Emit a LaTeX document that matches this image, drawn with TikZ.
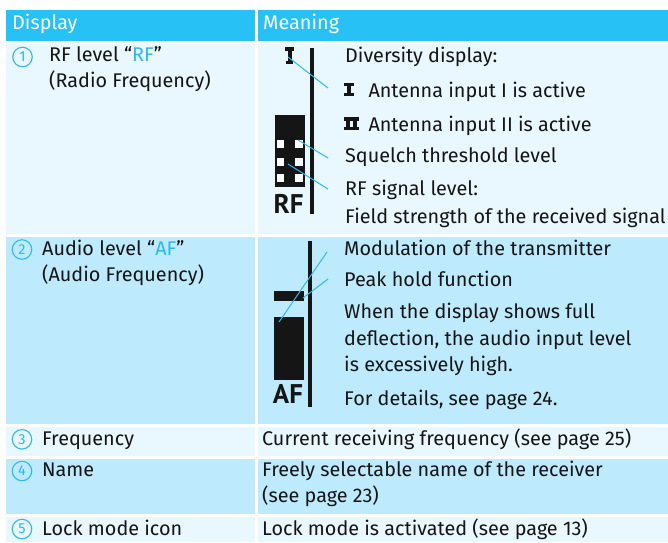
\documentclass[tikz,border=0pt]{standalone}
\usepackage{fontspec}
\setmainfont{Fira Sans}
\newfontfamily\lblfont{PT Sans}
\definecolor{hdr}{HTML}{27C1F6}
\definecolor{rowA}{HTML}{E9F7FE}
\definecolor{rowB}{HTML}{BDEBFD}
\definecolor{acc}{HTML}{2DB8EE}
\definecolor{ink}{HTML}{151515}
\begin{document}
\begin{tikzpicture}[x=1pt,y=-1pt,
  txt/.style={anchor=base west, inner sep=0pt, text=ink, font=\fontsize{19.8}{22}\selectfont},
  htxt/.style={txt, text=white},
  num/.style={circle, draw=acc, line width=1.1pt, text=acc, inner sep=0pt, minimum size=19.5pt, font=\fontsize{14.5}{14.5}\selectfont},
  lead/.style={draw=acc, line width=1pt},
  glyph/.style={fill=ink},
  biglbl/.style={anchor=base, inner sep=0pt, text=ink, font=\lblfont\fontsize{27}{27}\selectfont\bfseries}]
\useasboundingbox (0,0) rectangle (668,542);
% table cells
\fill[hdr] (6,10) rectangle (255,41);
\fill[hdr] (258,10) rectangle (668,41);
\fill[rowA] (6,44) rectangle (255,234);
\fill[rowA] (258,44) rectangle (668,234);
\fill[rowB] (6,237) rectangle (255,424);
\fill[rowB] (258,237) rectangle (668,424);
\fill[rowA] (6,427) rectangle (255,456);
\fill[rowA] (258,427) rectangle (668,456);
\fill[rowB] (6,459) rectangle (255,514);
\fill[rowB] (258,459) rectangle (668,514);
\fill[rowA] (6,517) rectangle (255,542);
\fill[rowA] (258,517) rectangle (668,542);
% header
\node[htxt] (hd) at (12,29.5) {Display};
\node[htxt] (hm) at (263,29.5) {Meaning};
% left column
\node[num] (n1) at (22.5,57) {1};
\node[txt] (l1a) at (49,61.7) {RF level “\textcolor{acc}{RF}”};
\node[txt] (l1b) at (49,87.5) {(Radio Frequency)};
\node[num] (n2) at (22,249.5) {2};
\node[txt] (l2a) at (42,255) {Audio level “\textcolor{acc}{AF}”};
\node[txt] (l2b) at (42,281.7) {(Audio Frequency)};
\node[num] (n3) at (22,439.3) {3};
\node[txt] (l3) at (42,445) {Frequency};
\node[num] (n4) at (22,471) {4};
\node[txt] (l4) at (42,476) {Name};
\node[num] (n5) at (22,529) {5};
\node[txt] (l5) at (42,535) {Lock mode icon};
% right column rows 3-5
\node[txt] (r3) at (262,445) {Current receiving frequency (see page 25)};
\node[txt] (r4a) at (262,476) {Freely selectable name of the receiver};
\node[txt] (r4b) at (262,502) {(see page 23)};
\node[txt] (r5) at (262,535) {Lock mode is activated (see page 13)};
% row 1 meaning texts
\node[txt] (div) at (345,62.7) {Diversity display:};
\node[txt] (ant1) at (368.3,97) {Antenna input I is active};
\node[txt] (ant2) at (368.3,131) {Antenna input II is active};
\node[txt] (sq) at (345,162.7) {Squelch threshold level};
\node[txt] (rfs) at (345,195) {RF signal level:};
\node[txt] (fs) at (345,223.3) {Field strength of the received signal};
% row 2 meaning texts
\node[txt] (mod) at (344,255) {Modulation of the transmitter};
\node[txt] (peak) at (344,286.7) {Peak hold function};
\node[txt] (w1) at (344,318.3) {When the display shows full};
\node[txt] (w2) at (344,345) {deflection, the audio input level};
\node[txt] (w3) at (344,371.7) {is excessively high.};
\node[txt] (det) at (344,405) {For details, see page 24.};
% legend glyph I
\fill[glyph] (344,83) rectangle (354,86.3);
\fill[glyph] (347.2,86.3) rectangle (350.8,92.7);
\fill[glyph] (344,92.7) rectangle (354,96);
% legend glyph II
\fill[glyph] (344,117.3) rectangle (358.7,120.6);
\fill[glyph] (346,120.6) rectangle (349.7,127);
\fill[glyph] (353,120.6) rectangle (356.7,127);
\fill[glyph] (344,127) rectangle (358.7,130.3);
% RF display graphic
\fill[glyph] (310,48) rectangle (314,214);
\fill[glyph] (285,47) rectangle (294.3,50.7);
\fill[glyph] (288,50.7) rectangle (292,60.7);
\fill[glyph] (286,60.7) rectangle (293.3,64.3);
\fill[glyph] (275,115) rectangle (305,187);
\foreach \yy in {140,158,174}{
  \fill[white] (276.5,\yy) rectangle (284,\yy+8);
  \fill[white] (295,\yy) rectangle (302.5,\yy+8);
}
\node[biglbl] (rflbl) at (288.5,213) {RF};
\coordinate (divtip) at (288,57);
\coordinate (divend) at (328,88);
\coordinate (sqtip) at (298,140);
\coordinate (sqend) at (328,158);
\coordinate (rftip) at (288,164);
\coordinate (rfend) at (328,189);
\draw[lead] (divtip) -- (divend);
\draw[lead] (sqtip) -- (sqend);
\draw[lead] (rftip) -- (rfend);
% AF display graphic
\fill[glyph] (308,241) rectangle (312,407);
\fill[glyph] (274,291) rectangle (304,301);
\fill[glyph] (274,317) rectangle (304,380);
\node[biglbl] (aflbl) at (288,403) {AF};
\coordinate (modtip) at (279,322);
\coordinate (modend) at (327,252);
\coordinate (pktip) at (303,298);
\coordinate (pkend) at (328,279);
\draw[lead] (modtip) -- (modend);
\draw[lead] (pktip) -- (pkend);
\end{tikzpicture}
\end{document}
